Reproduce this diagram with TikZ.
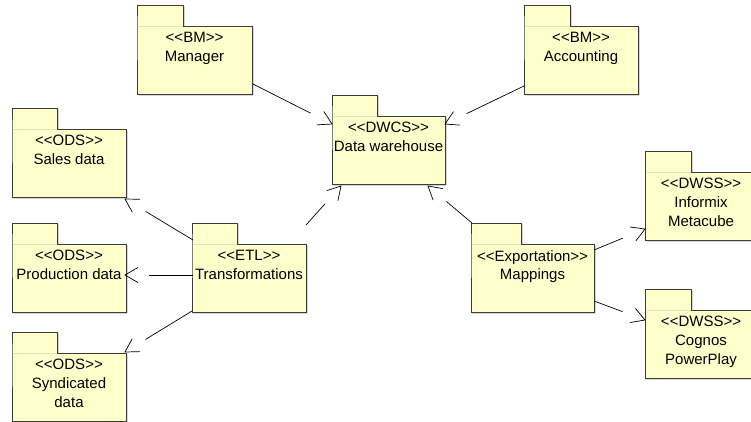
\documentclass[tikz,border=0pt]{standalone}
\usepackage{fontspec}
\setmainfont{Liberation Sans}
\usetikzlibrary{calc}
\definecolor{pkgfill}{RGB}{255,255,204}
\definecolor{pkgedge}{RGB}{60,60,60}
\definecolor{pkgshade}{RGB}{140,140,140}
\definecolor{pkgsep}{RGB}{225,225,200}
\newcommand\st[1]{<\kern0pt<#1>\kern0pt>}
\tikzset{
  pkgbody/.style={rectangle, fill=pkgfill, inner sep=0pt, outer sep=0pt},
  pkgline/.style={draw=pkgedge, line width=0.8pt, line join=miter},
  pkgfaint/.style={draw=pkgsep, line width=0.8pt},
  pkgtext/.style={anchor=north, inner sep=0pt, align=center, font=\fontsize{15}{18.7}\selectfont, text=black},
  depline/.style={draw=black, line width=0.7pt},
}
% #1 name, #2 left, #3 tab top, #4 right, #5 tab right, #6 text
\newcommand\umlpkg[6]{%
  \fill[pkgshade] (#2+1.4,#3+1.4) -- (#5+1.4,#3+1.4) -- (#5+1.4,#3+22.4) -- (#4+1.4,#3+22.4) -- (#4+1.4,#3+90.4) -- (#2+1.4,#3+90.4) -- cycle;
  \node[pkgbody, minimum width=#4-#2, minimum height=68, anchor=north west] (#1) at (#2,#3+21) {};
  \node[pkgbody, minimum width=#5-#2, minimum height=21, anchor=north west] (#1-tab) at (#2,#3) {};
  \draw[pkgline] (#1.north west) -- (#1-tab.north west) -- (#1-tab.north east) -- (#1-tab.south east) -- (#1.north east) -- (#1.south east) -- (#1.south west) -- cycle;
  \draw[pkgfaint] ([xshift=0.5pt]#1.north west) -- ([xshift=-0.5pt]#1-tab.south east);
  \node[pkgtext] (#1-label) at ([yshift=-6.2pt]#1.north) {#6};
}
% dependency: #1 source coordinate, #2 target tip coordinate
\newcommand\dep[2]{%
  \draw[depline] (#1) -- ($(#2)!24pt!(#1)$);
  \draw[depline] ($(#2)!15pt!30:(#1)$) -- (#2) -- ($(#2)!15pt!-30:(#1)$);
}
\begin{document}
\begin{tikzpicture}[x=1pt,y=-1pt]
\clip (0,0) rectangle (751,421);
\useasboundingbox (0,0) rectangle (751,421);
\umlpkg{man}{137}{5}{252}{183}{\st{BM}\\Manager}
\umlpkg{acc}{524}{5}{638}{570}{\st{BM}\\Accounting}
\umlpkg{dw}{332}{95}{445}{377}{\st{DWCS}\\Data warehouse}
\umlpkg{sales}{12}{108}{126}{57}{\st{ODS}\\Sales data}
\umlpkg{prod}{12}{223}{126}{57}{\st{ODS}\\Production data}
\umlpkg{synd}{12}{332}{126}{57}{\st{ODS}\\Syndicated\\data}
\umlpkg{trans}{192}{223}{306}{237}{\st{ETL}\\Transformations}
\umlpkg{map}{471}{223}{594}{521}{\st{Exportation}\\Mappings}
\umlpkg{inf}{645}{151}{757}{691}{\st{DWSS}\\Informix\\Metacube}
\umlpkg{cog}{645}{289}{757}{691}{\st{DWSS}\\Cognos\\PowerPlay}
% connector end points
\coordinate (man-out) at (253,84);
\coordinate (acc-out) at (524,86);
\coordinate (dw-in1) at (332,124);
\coordinate (dw-in2) at (445,124);
\coordinate (dw-in3) at (341,186);
\coordinate (dw-in4) at (428,186);
\coordinate (trans-o1) at (306,225);
\coordinate (trans-o2) at (193,240);
\coordinate (trans-o3) at (193,275);
\coordinate (trans-o4) at (192,311);
\coordinate (sales-in) at (125,199);
\coordinate (prod-in) at (125,275);
\coordinate (synd-in) at (125,352);
\coordinate (map-o1) at (472,223);
\coordinate (map-o2) at (594,250);
\coordinate (map-o3) at (594,301);
\coordinate (inf-in) at (645,229);
\coordinate (cog-in) at (645,320);
\dep{man-out}{dw-in1}
\dep{acc-out}{dw-in2}
\dep{trans-o1}{dw-in3}
\dep{map-o1}{dw-in4}
\dep{trans-o2}{sales-in}
\dep{trans-o3}{prod-in}
\dep{trans-o4}{synd-in}
\dep{map-o2}{inf-in}
\dep{map-o3}{cog-in}
\end{tikzpicture}
\end{document}
